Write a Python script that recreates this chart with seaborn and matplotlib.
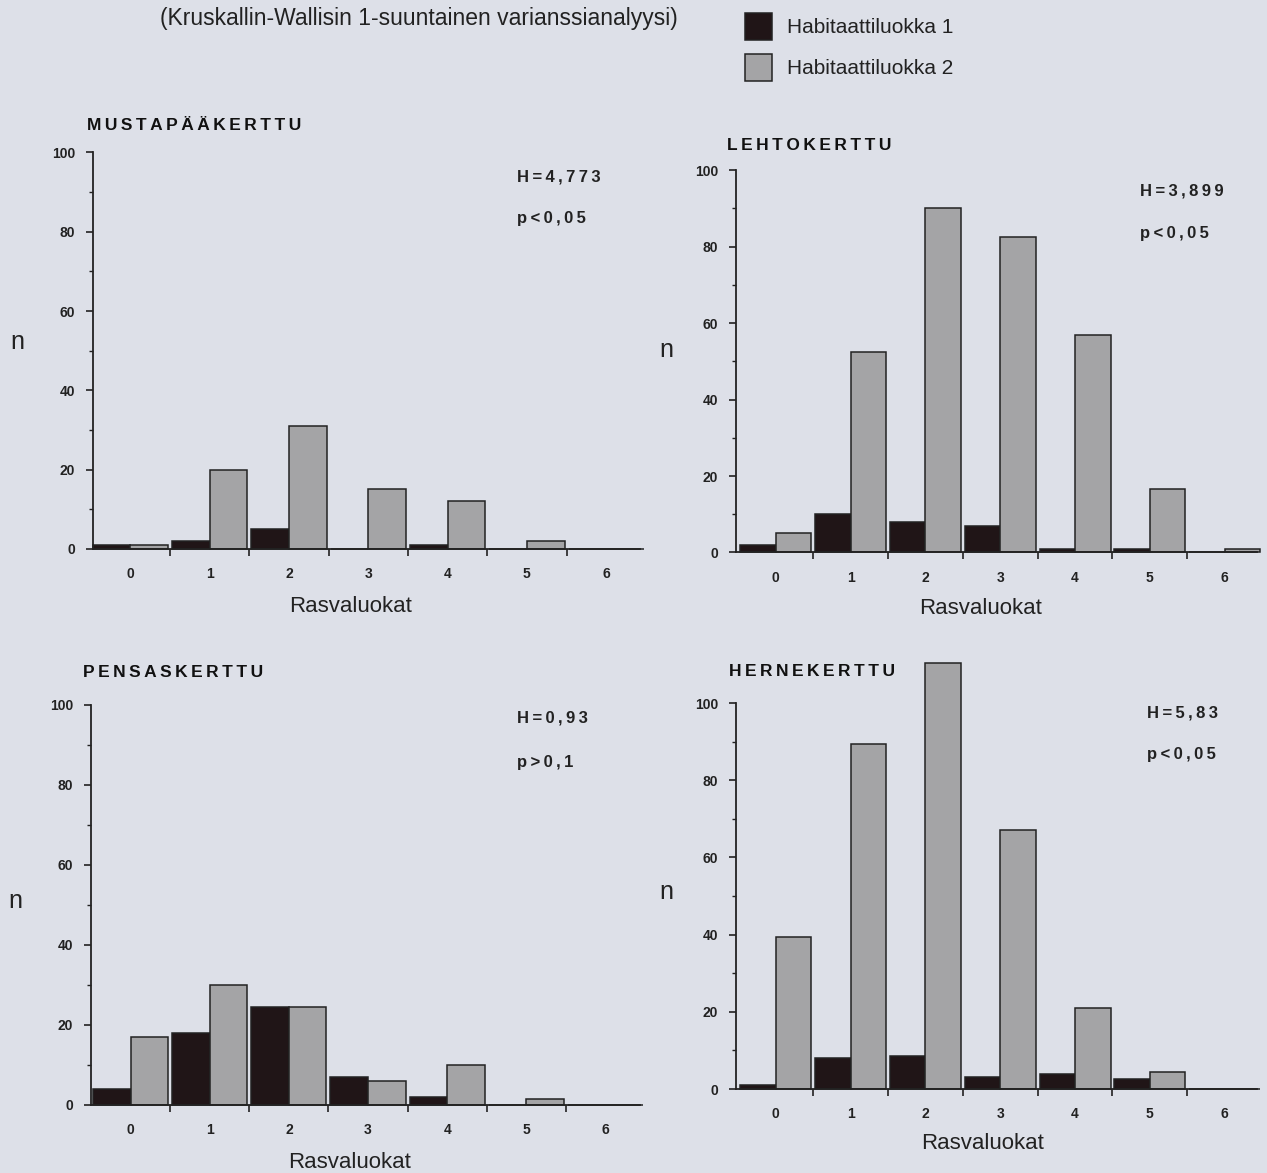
import pandas as pd
import matplotlib
matplotlib.use("Agg")
import matplotlib.pyplot as plt
from matplotlib.ticker import MultipleLocator, FixedLocator
import seaborn as sns

# fat classes 0..6, counts per habitat class
classes = [0, 1, 2, 3, 4, 5, 6]
hab_names = ["Habitaattiluokka 1", "Habitaattiluokka 2"]

mustapaa_h1 = [1, 2, 5, 0, 1, 0, 0]
mustapaa_h2 = [1, 20, 31, 15, 12, 2, 0]
lehto_h1 = [2, 10, 8, 7, 1, 1, 0]
lehto_h2 = [5, 52.5, 90, 82.5, 57, 16.5, 1]
pensas_h1 = [4, 18, 24.5, 7, 2, 0, 0]
pensas_h2 = [17, 30, 24.5, 6, 10, 1.5, 0]
herne_h1 = [1, 8, 8.5, 3, 4, 2.5, 0]
herne_h2 = [39.5, 89.5, 110.5, 67, 21, 4.5, 0]

species = ["MUSTAPÄÄKERTTU", "LEHTOKERTTU", "PENSASKERTTU", "HERNEKERTTU"]
h_stats = ["H=4,773", "H=3,899", "H=0,93", "H=5,83"]
p_stats = ["p<0,05", "p<0,05", "p>0,1", "p<0,05"]
series = [(mustapaa_h1, mustapaa_h2), (lehto_h1, lehto_h2),
          (pensas_h1, pensas_h2), (herne_h1, herne_h2)]

bg = "#dde0e8"
colors = {hab_names[0]: "#201517", hab_names[1]: "#a4a4a6"}
ink = "#222222"

sns.set_style("ticks")
plt.rcParams["font.family"] = ["Liberation Sans", "DejaVu Sans"]


def spaced(s):
    return "\u2009".join(s)


fig = plt.figure(figsize=(12.67, 11.73), dpi=100, facecolor=bg)

# axes boxes in figure fractions
boxes = [
    [0.0734, 0.532, 0.432, 0.338],
    [0.581, 0.529, 0.411, 0.326],
    [0.0718, 0.058, 0.433, 0.341],
    [0.581, 0.0716, 0.411, 0.329],
]
title_pos = [(-0.011, 1.068), (-0.017, 1.065), (-0.015, 1.08), (-0.013, 1.083)]
stat_pos = [(0.775, 0.937, 0.834), (0.775, 0.945, 0.835),
            (0.776, 0.967, 0.857), (0.789, 0.974, 0.868)]
xlabel_pos = [(0.47, -0.118), (0.47, -0.12), (0.472, -0.118), (0.474, -0.114)]
n_pos = [(17, 342), (666, 350), (15, 901), (666, 892)]
xlims = [(-0.47, 6.43), (-0.53, 6.43), (-0.5, 6.43), (-0.53, 6.43)]

axes = []
for i, (h1, h2) in enumerate(series):
    ax = fig.add_axes(boxes[i])
    ax.set_facecolor(bg)
    df = pd.DataFrame({
        "Rasvaluokka": classes * 2,
        "n": list(h1) + list(h2),
        "Luokka": [hab_names[0]] * 7 + [hab_names[1]] * 7,
    })
    sns.barplot(data=df, x="Rasvaluokka", y="n", hue="Luokka",
                palette=colors, width=0.95, edgecolor=ink, linewidth=1.1,
                saturation=1, ax=ax)
    for p in ax.patches:
        p.set_clip_on(False)
    ax.set_ylim(0, 100)
    ax.set_xlim(*xlims[i])
    ax.yaxis.set_major_locator(MultipleLocator(20))
    ax.yaxis.set_minor_locator(MultipleLocator(10))
    ax.xaxis.set_minor_locator(FixedLocator([0.5, 1.5, 2.5, 3.5, 4.5, 5.5]))
    ax.tick_params(axis="x", which="major", length=0, pad=13,
                   labelsize=10, colors=ink)
    ax.tick_params(axis="x", which="minor", length=5, width=1.2, color=ink)
    ax.tick_params(axis="y", which="major", length=5, width=1.2,
                   labelsize=10, colors=ink, pad=8)
    ax.tick_params(axis="y", which="minor", length=3, width=1.0, color=ink)
    for lab in ax.get_xticklabels() + ax.get_yticklabels():
        lab.set_fontweight("bold")
    for s in ["left", "bottom"]:
        ax.spines[s].set_color(ink)
        ax.spines[s].set_linewidth(1.3)
    sns.despine(ax=ax)
    ax.set_ylabel("")
    ax.set_xlabel("Rasvaluokat", fontsize=16, color=ink)
    ax.xaxis.set_label_coords(*xlabel_pos[i])
    ax.get_legend().remove()

    tx, ty = title_pos[i]
    ax.text(tx, ty, spaced(species[i]), transform=ax.transAxes,
            fontsize=12.5, fontweight="bold", color="#111111",
            ha="left", va="center")
    sx, sy1, sy2 = stat_pos[i]
    ax.text(sx, sy1, spaced(h_stats[i]), transform=ax.transAxes,
            fontsize=12, fontweight="semibold", color=ink, va="center")
    ax.text(sx, sy2, spaced(p_stats[i]), transform=ax.transAxes,
            fontsize=12, fontweight="semibold", color=ink, va="center")
    nx, ny = n_pos[i]
    fig.text(nx / 1267, 1 - ny / 1173, "n", fontsize=18, color=ink,
             ha="center", va="center")
    axes.append(ax)

handles, labels = axes[0].get_legend_handles_labels()
fig.legend(handles, labels, loc="upper left", bbox_to_anchor=(0.588, 0.989),
           frameon=False, fontsize=15, handlelength=1.3, handleheight=1.6,
           labelspacing=0.7, handletextpad=0.72, borderpad=0,
           borderaxespad=0, labelcolor=ink)

fig.text(0.126, 0.984, "(Kruskallin-Wallisin 1-suuntainen varianssianalyysi)",
         fontsize=16.5, color=ink, ha="left", va="center")

fig.savefig("out.png", dpi=100, facecolor=bg)
